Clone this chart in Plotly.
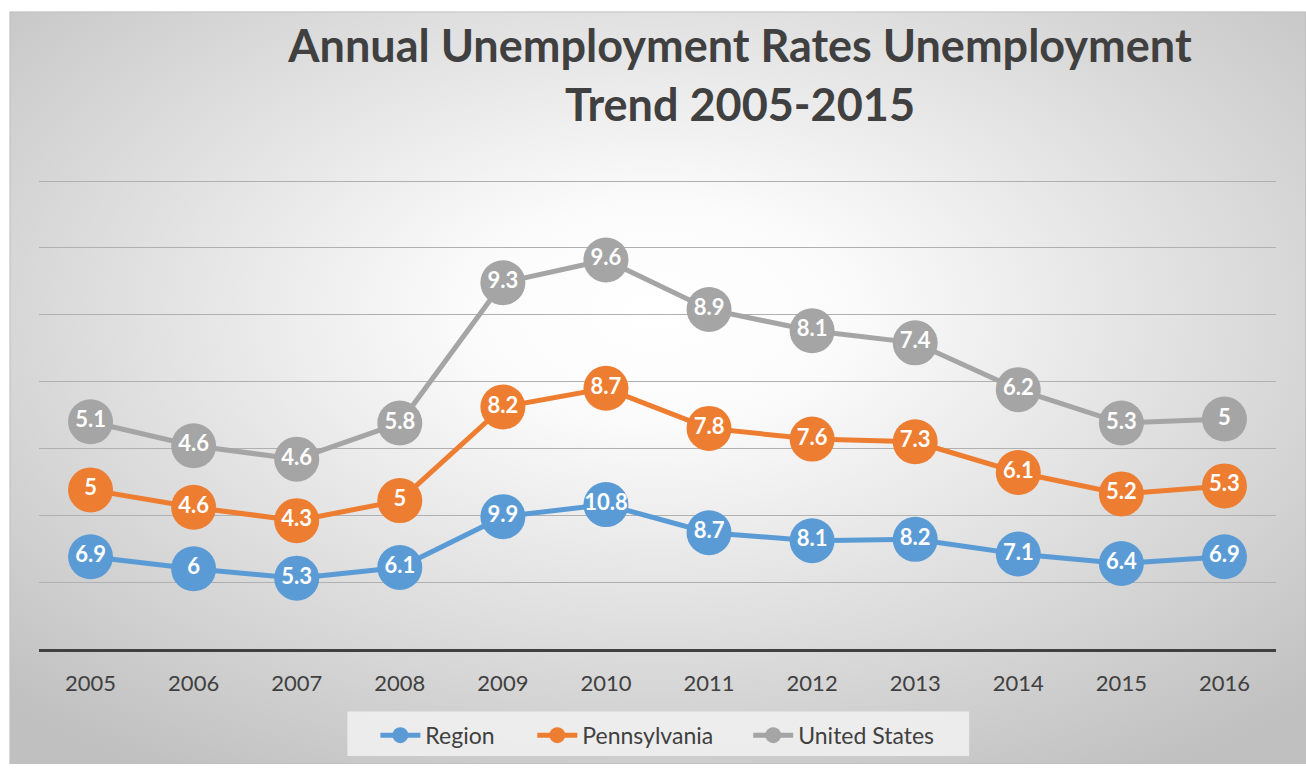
import base64
import numpy as np
import plotly.graph_objects as go

years = ["2005", "2006", "2007", "2008", "2009", "2010", "2011", "2012", "2013", "2014", "2015", "2016"]
region = [6.9, 6, 5.3, 6.1, 9.9, 10.8, 8.7, 8.1, 8.2, 7.1, 6.4, 6.9]
pennsylvania = [5, 4.6, 4.3, 5, 8.2, 8.7, 7.8, 7.6, 7.3, 6.1, 5.2, 5.3]
united_states = [5.1, 4.6, 4.6, 5.8, 9.3, 9.6, 8.9, 8.1, 7.4, 6.2, 5.3, 5]

series_names = ["Region", "Pennsylvania", "United States"]
series_values = [region, pennsylvania, united_states]
colors = ["#5B9BD5", "#ED7D31", "#A5A5A5"]

W, H = 1306, 769
ml, mr, mt, mb = 38.5, 30, 180, 116
pw, ph = W - ml - mr, H - mt - mb

# stacked line chart (cumulative)
cum = np.cumsum(np.array(series_values, dtype=float), axis=0)

legend_ids = ["legend", "legend2", "legend3"]
legend_left_px = [375, 532, 748]

fig = go.Figure()
for name, vals, c, col, lid in zip(series_names, series_values, cum, colors, legend_ids):
    fig.add_trace(go.Scatter(
        x=years, y=c, name=name, legend=lid,
        mode="lines+markers+text",
        line=dict(color=col, width=5),
        marker=dict(color=col, size=45),
        text=[f"{v:g}" for v in vals],
        textposition="middle center",
        textfont=dict(color="white", size=22, family="Lato", weight="bold"),
        cliponaxis=False,
        hoverinfo="skip",
    ))

svg = f'''<svg xmlns="http://www.w3.org/2000/svg" width="{W}" height="{H}" viewBox="0 0 {W} {H}" preserveAspectRatio="none">
<defs><radialGradient id="g" cx="0.5" cy="0.4" r="0.72" gradientUnits="objectBoundingBox">
<stop offset="0" stop-color="#ffffff"/><stop offset="0.2" stop-color="#fbfbfb"/><stop offset="1" stop-color="#c0c0c0"/>
</radialGradient></defs>
<rect x="0" y="0" width="{W}" height="{H}" fill="url(#g)" stroke="#c0c0c0" stroke-width="2"/></svg>'''
src = "data:image/svg+xml;base64," + base64.b64encode(svg.encode()).decode()

cx0, cx1 = 9, 1306
cy0, cy1 = 10, 769
fig.add_layout_image(dict(
    source=src, xref="paper", yref="paper",
    x=(cx0 - ml) / pw, y=(H - mb - cy0) / ph,
    sizex=(cx1 - cx0) / pw, sizey=(cy1 - cy0) / ph,
    xanchor="left", yanchor="top", sizing="stretch", layer="below",
))

# legend box
lx0, lx1, ly0, ly1 = 347, 969, 716, 761
fig.add_shape(type="rect", xref="paper", yref="paper", layer="below",
              x0=(lx0 - ml) / pw, x1=(lx1 - ml) / pw,
              y0=(H - mb - ly1) / ph, y1=(H - mb - ly0) / ph,
              fillcolor="rgba(244,244,244,0.8)", line=dict(width=0))

legend_style = dict(
    orientation="h", xanchor="left", yanchor="middle",
    y=(H - mb - 740) / ph, bgcolor="rgba(0,0,0,0)",
    font=dict(family="Lato", size=23, color="#404040"),
    itemwidth=40,
)

fig.update_layout(
    width=W, height=H,
    margin=dict(l=ml, r=mr, t=mt, b=mb, pad=0),
    paper_bgcolor="white",
    plot_bgcolor="rgba(0,0,0,0)",
    title=dict(
        text="Annual Unemployment Rates Unemployment<br>Trend 2005-2015",
        x=740 / W, xref="container", xanchor="center",
        y=1 - 62 / H, yref="container", yanchor="top",
        font=dict(family="Lato", size=45, color="#404040", weight="bold"),
    ),
    showlegend=True,
    xaxis=dict(
        type="category", range=[-0.5, 11.5],
        showline=True, linecolor="#404040", linewidth=3,
        showgrid=False, ticks="", ticklabelstandoff=13,
        tickfont=dict(family="Lato", size=22, color="#404040"),
        fixedrange=True,
    ),
    yaxis=dict(
        range=[0, 35.08], tickvals=[5, 10, 15, 20, 25, 30, 35], showticklabels=False,
        showgrid=True, gridcolor="#b0b0b0", gridwidth=1,
        zeroline=False, showline=False, fixedrange=True,
    ),
)
for lid, lx in zip(legend_ids, legend_left_px):
    fig.update_layout({lid: dict(legend_style, x=(lx - ml) / pw)})

fig.write_html("out.html", config={"displayModeBar": False},
               post_script="document.body.style.margin='0';document.body.style.overflow='hidden';")
